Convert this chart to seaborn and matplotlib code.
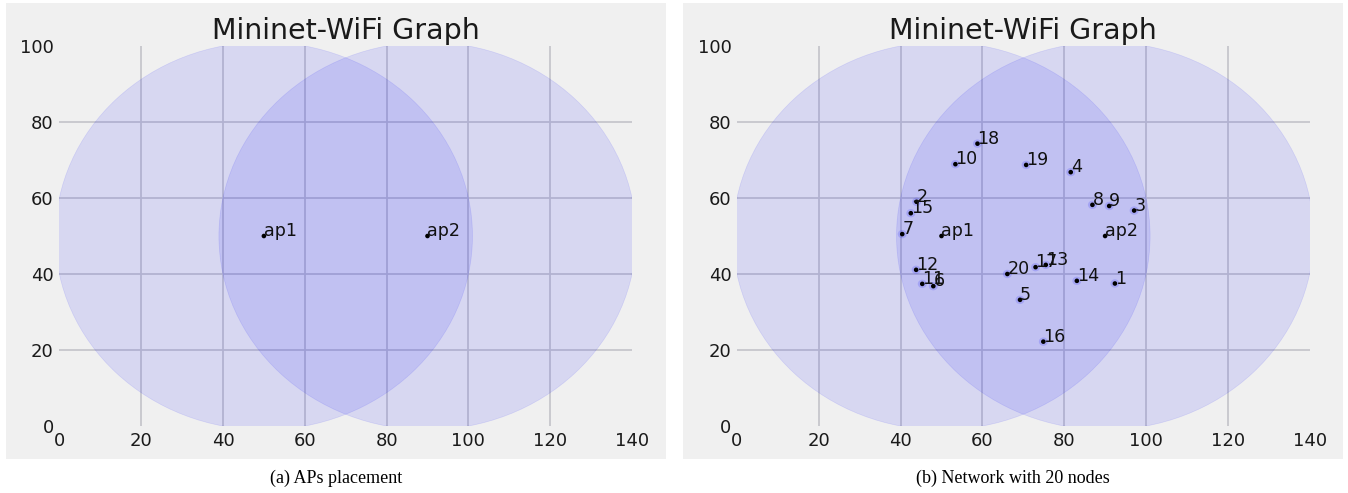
import matplotlib
matplotlib.use("Agg")
import matplotlib.pyplot as plt
from matplotlib.patches import Circle
import pandas as pd
import seaborn as sns

# Access points: name, position and coverage radius (metres)
ap_names = ["ap1", "ap2"]
ap_x = [50, 90]
ap_y = [50, 50]
ap_range = [51, 51]

# Stations sta1..sta20 positions (metres)
sta_names = [str(i) for i in range(1, 21)]
sta_x = [92.4, 43.9, 97.1, 81.6, 69.2, 48.0, 40.4, 86.9, 91.0, 53.4,
         45.3, 43.8, 75.5, 83.1, 42.5, 74.9, 73.0, 58.8, 70.7, 66.1]
sta_y = [37.5, 59.0, 56.7, 66.8, 33.2, 36.8, 50.5, 58.2, 57.9, 68.9,
         37.4, 41.1, 42.4, 38.2, 56.0, 22.2, 41.8, 74.3, 68.7, 40.0]

x_ticks = [0, 20, 40, 60, 80, 100, 120, 140]
y_ticks = [0, 20, 40, 60, 80, 100]
title = "Mininet-WiFi Graph"
captions = ["(a) APs placement", "(b) Network with 20 nodes"]

ap_df = pd.DataFrame({"name": ap_names, "x": ap_x, "y": ap_y, "r": ap_range})
sta_df = pd.DataFrame({"name": sta_names, "x": sta_x, "y": sta_y})

RANGE_COLOR = "#0000ff"

sns.set_theme(style="whitegrid", rc={
    "axes.facecolor": "#f0f0f0",
    "axes.edgecolor": "#f0f0f0",
    "grid.color": "#c6c6cc",
    "grid.linewidth": 1.3,
    "xtick.major.size": 0,
    "ytick.major.size": 0,
    "axes.axisbelow": True,
})
plt.rcParams["font.family"] = ["DejaVu Sans"]

W, H = 1348, 493
fig = plt.figure(figsize=(W / 100, H / 100), dpi=100, facecolor="white")

panel_left = [6, 683]
axes_left = [59.4, 737.0]
for i in range(2):
    # grey background of each sub-figure
    bg = fig.add_axes([panel_left[i] / W, (H - 459) / H, 660 / W, 456 / H], zorder=-5)
    bg.set_facecolor("#f0f0f0")
    bg.set_xticks([])
    bg.set_yticks([])
    bg.grid(False)
    for s in bg.spines.values():
        s.set_visible(False)

    ax = fig.add_axes([axes_left[i] / W, (H - 426) / H, 572.6 / W, 380 / H], zorder=1)
    ax.set_xlim(0, 140)
    ax.set_ylim(0, 100)
    ax.set_xticks(x_ticks)
    ax.set_yticks(y_ticks)
    ax.tick_params(labelsize=13, pad=4, colors="#1a1a1a")
    for s in ax.spines.values():
        s.set_visible(False)
    ax.set_title(title, fontsize=20.5, pad=5, color="#1a1a1a")

    # coverage of each access point
    for _, row in ap_df.iterrows():
        ax.add_patch(Circle((row.x, row.y), row.r, color=RANGE_COLOR, alpha=0.1, lw=0.5))

    nodes = ap_df[["name", "x", "y"]]
    if i == 1:
        for _, row in sta_df.iterrows():
            ax.add_patch(Circle((row.x, row.y), 1.1, color=RANGE_COLOR, alpha=0.15, lw=0))
        nodes = pd.concat([nodes, sta_df], ignore_index=True)

    sns.scatterplot(data=nodes, x="x", y="y", ax=ax, color="black", s=11,
                    edgecolor="none", zorder=3, legend=False)
    for _, row in nodes.iterrows():
        ax.annotate(row["name"], xy=(row.x, row.y), fontsize=12.6, color="#111111", zorder=4)
    ax.set_xlabel("")
    ax.set_ylabel("")

    # no grid lines along the outer edge of the plotting area
    fig.canvas.draw()
    for gl in (ax.xaxis.get_gridlines()[0], ax.xaxis.get_gridlines()[-1],
               ax.yaxis.get_gridlines()[0], ax.yaxis.get_gridlines()[-1]):
        gl.set_visible(False)

    fig.text((panel_left[i] + 330) / W, (H - 478) / H, captions[i], ha="center", va="center",
             fontsize=13, family="Liberation Serif", color="black")

fig.savefig("out.png", dpi=100, facecolor="white")
